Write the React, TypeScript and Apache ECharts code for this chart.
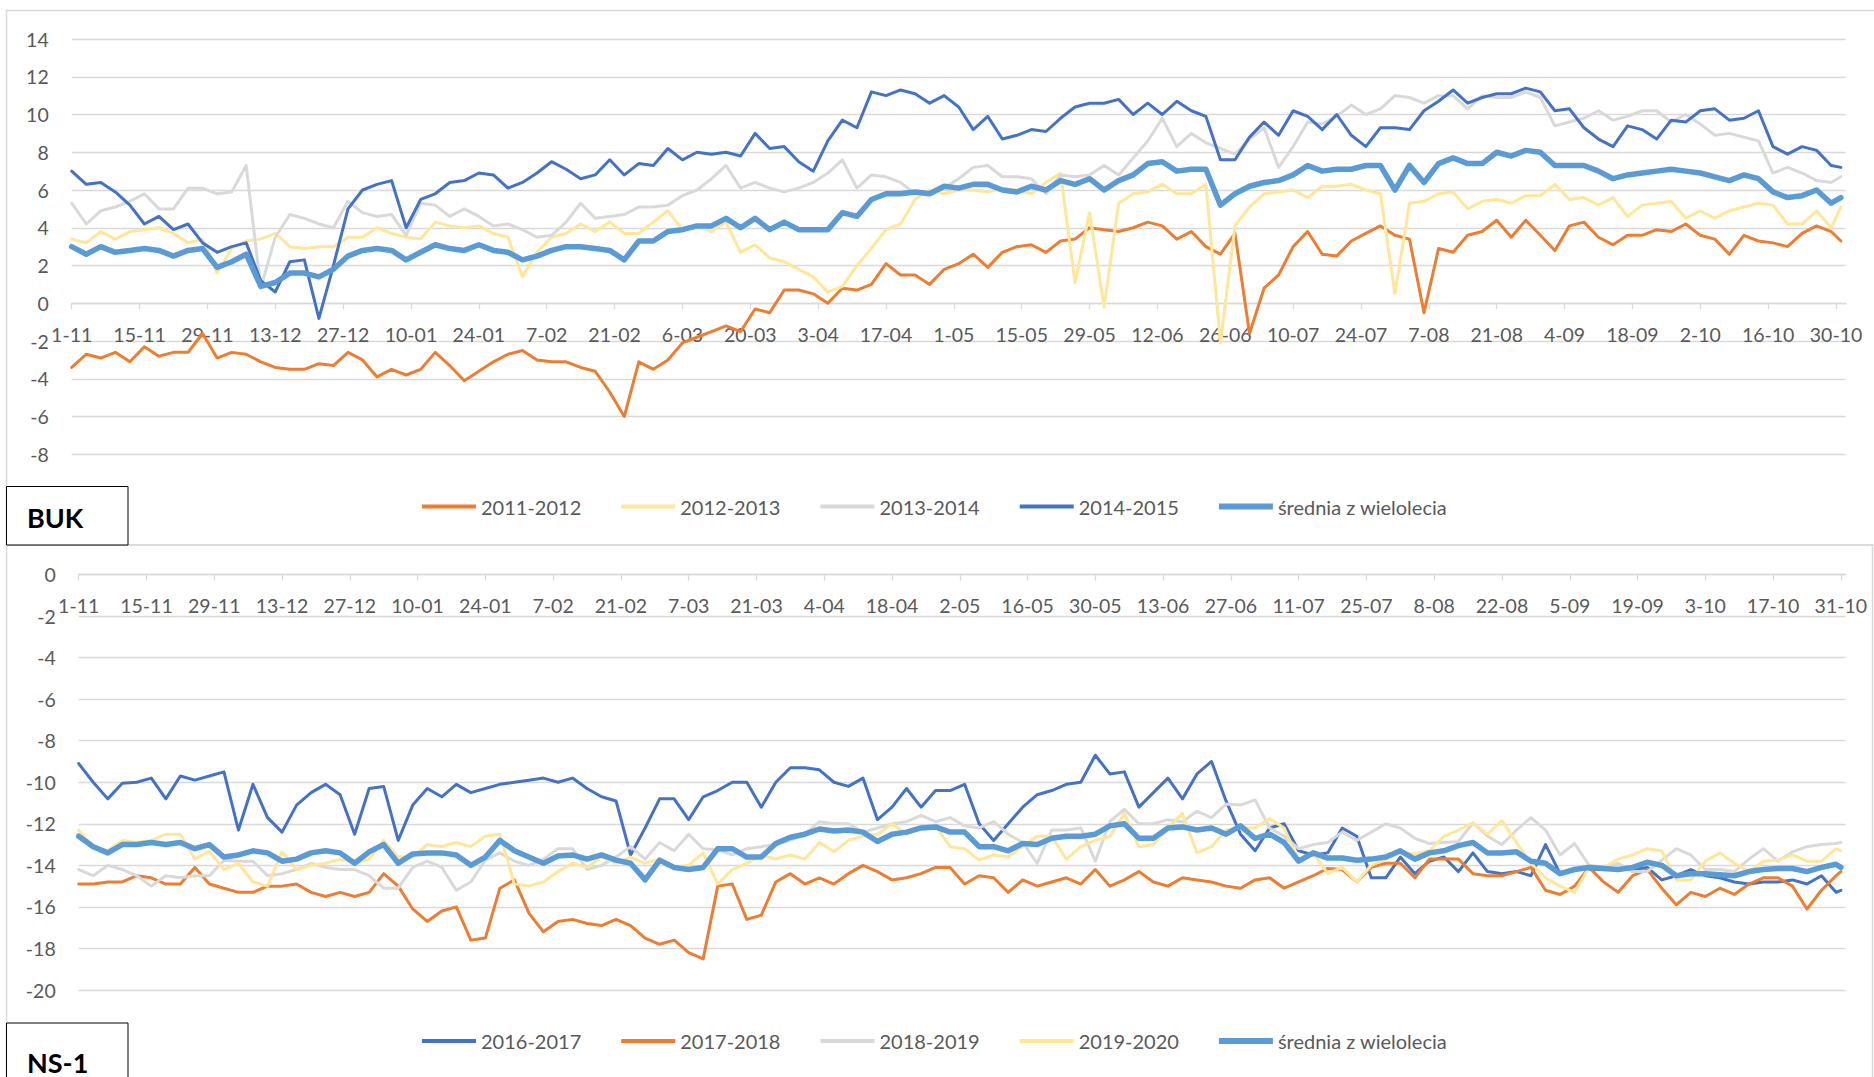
import React, { useEffect, useRef } from "react";
import * as echarts from "echarts";

// sampling: one value every STEP days, last value on the last day
const STEP = 3;
const TOP_START = Date.UTC(2011, 10, 1);
const TOP_DAYS = 367;
const TOP_LAST = 365;
const BOT_START = Date.UTC(2016, 10, 1);
const BOT_DAYS = 366;
const BOT_LAST = 364;

const TOP_NAMES = ["2011-2012", "2012-2013", "2013-2014", "2014-2015", "średnia z wielolecia"];
const BOT_NAMES = ["2016-2017", "2017-2018", "2018-2019", "2019-2020", "średnia z wielolecia"];

// BUK (top panel)
const BUK_2011_2012 = [
  -3.4, -2.7, -2.9, -2.6, -3.1, -2.3, -2.8, -2.6, -2.6, -1.6, -2.9, -2.6, -2.7, -3.1, -3.4, -3.5, -3.5, -3.2, -3.3, -2.6, -3.0, -3.9, -3.5, -3.8, -3.5, -2.6, -3.3, -4.1, -3.6,
  -3.1, -2.7, -2.5, -3.0, -3.1, -3.1, -3.4, -3.6, -4.7, -6.0, -3.1, -3.5, -3.0, -2.1, -1.8, -1.5, -1.2, -1.5, -0.3, -0.5, 0.7, 0.7, 0.5, 0.0, 0.8, 0.7, 1.0, 2.1, 1.5, 1.5, 1.0, 1.8,
  2.1, 2.6, 1.9, 2.7, 3.0, 3.1, 2.7, 3.3, 3.4, 4.0, 3.9, 3.8, 4.0, 4.3, 4.1, 3.4, 3.8, 3.0, 2.6, 3.7, -1.6, 0.8, 1.5, 3.0, 3.8, 2.6, 2.5, 3.3, 3.7, 4.1, 3.6, 3.4,
  -0.5, 2.9, 2.7, 3.6, 3.8, 4.4, 3.5, 4.4, 3.6, 2.8, 4.1, 4.3, 3.5, 3.1, 3.6, 3.6, 3.9, 3.8, 4.2, 3.6, 3.4, 2.6, 3.6, 3.3, 3.2, 3.0, 3.7, 4.1, 3.8, 3.3,
];
const BUK_2012_2013 = [
  3.4, 3.2, 3.8, 3.4, 3.8, 3.9, 4.0, 3.7, 3.2, 3.4, 1.6, 2.9, 3.3, 3.4, 3.7, 3.0, 2.9, 3.0, 3.0, 3.5, 3.5, 4.0, 3.7, 3.5, 3.4, 4.3, 4.1, 4.0, 4.1,
  3.7, 3.5, 1.4, 2.7, 3.5, 3.7, 4.2, 3.8, 4.3, 3.7, 3.7, 4.3, 4.9, 3.9, 4.1, 3.8, 4.3, 2.7, 3.1, 2.4, 2.2, 1.8, 1.4, 0.6, 0.9, 2.0, 2.9, 3.9, 4.2, 5.5, 6.0, 5.8,
  6.0, 6.0, 5.9, 6.1, 6.0, 5.8, 6.4, 6.9, 1.1, 4.8, -0.2, 5.3, 5.8, 5.9, 6.3, 5.8, 5.8, 6.3, -2.1, 4.1, 5.1, 5.8, 5.9, 6.0, 5.6, 6.2, 6.2, 6.3, 6.0, 5.8, 0.5, 5.3,
  5.4, 5.8, 5.9, 5.0, 5.4, 5.5, 5.3, 5.7, 5.7, 6.3, 5.5, 5.6, 5.2, 5.6, 4.6, 5.2, 5.3, 5.4, 4.5, 4.9, 4.5, 4.9, 5.1, 5.3, 5.2, 4.2, 4.2, 4.9, 4.0, 5.1,
];
const BUK_2013_2014 = [
  5.3, 4.2, 4.9, 5.1, 5.4, 5.8, 5.0, 5.0, 6.1, 6.1, 5.8, 5.9, 7.3, 0.8, 3.5, 4.7, 4.5, 4.2, 4.0, 5.4, 4.8, 4.6, 4.7, 3.6, 5.3, 5.2, 4.6, 5.0, 4.6,
  4.1, 4.2, 3.9, 3.5, 3.6, 4.3, 5.3, 4.5, 4.6, 4.7, 5.1, 5.1, 5.2, 5.7, 6.0, 6.6, 7.3, 6.1, 6.4, 6.1, 5.9, 6.1, 6.4, 6.9, 7.6, 6.1, 6.8, 6.7, 6.4, 5.8, 5.8, 6.1,
  6.6, 7.2, 7.3, 6.7, 6.7, 6.6, 5.8, 6.8, 6.7, 6.8, 7.3, 6.8, 7.7, 8.6, 9.8, 8.3, 9.0, 8.5, 8.2, 7.9, 8.7, 9.3, 7.2, 8.3, 9.6, 9.5, 9.9, 10.5, 10.0, 10.3, 11.0, 10.9,
  10.6, 11.0, 11.0, 10.3, 11.0, 10.9, 10.9, 11.2, 10.9, 9.4, 9.6, 9.8, 10.2, 9.7, 9.9, 10.2, 10.2, 9.6, 10.0, 9.5, 8.9, 9.0, 8.8, 8.6, 6.9, 7.2, 6.9, 6.5, 6.4, 6.7,
];
const BUK_2014_2015 = [
  7.0, 6.3, 6.4, 5.9, 5.2, 4.2, 4.6, 3.9, 4.2, 3.2, 2.7, 3.0, 3.2, 1.2, 0.6, 2.2, 2.3, -0.8, 2.0, 5.0, 6.0, 6.3, 6.5, 4.0, 5.5, 5.8, 6.4, 6.5, 6.9,
  6.8, 6.1, 6.4, 6.9, 7.5, 7.1, 6.6, 6.8, 7.6, 6.8, 7.4, 7.3, 8.2, 7.6, 8.0, 7.9, 8.0, 7.8, 9.0, 8.2, 8.3, 7.5, 7.0, 8.6, 9.7, 9.3, 11.2, 11.0, 11.3, 11.1, 10.6, 11.0,
  10.4, 9.2, 9.9, 8.7, 8.9, 9.2, 9.1, 9.8, 10.4, 10.6, 10.6, 10.8, 10.0, 10.6, 10.0, 10.7, 10.2, 9.9, 7.6, 7.6, 8.8, 9.6, 8.9, 10.2, 9.9, 9.2, 10.0, 8.9, 8.3, 9.3, 9.3, 9.2,
  10.2, 10.7, 11.3, 10.6, 10.9, 11.1, 11.1, 11.4, 11.2, 10.2, 10.3, 9.3, 8.7, 8.3, 9.4, 9.2, 8.7, 9.7, 9.6, 10.2, 10.3, 9.7, 9.8, 10.2, 8.3, 7.9, 8.3, 8.1, 7.3, 7.2,
];
const BUK_AVG = [
  3.0, 2.6, 3.0, 2.7, 2.8, 2.9, 2.8, 2.5, 2.8, 2.9, 1.9, 2.2, 2.6, 0.9, 1.1, 1.6, 1.6, 1.4, 1.8, 2.5, 2.8, 2.9, 2.8, 2.3, 2.7, 3.1, 2.9, 2.8, 3.1,
  2.8, 2.7, 2.3, 2.5, 2.8, 3.0, 3.0, 2.9, 2.8, 2.3, 3.3, 3.3, 3.8, 3.9, 4.1, 4.1, 4.5, 4.0, 4.5, 3.9, 4.3, 3.9, 3.9, 3.9, 4.8, 4.6, 5.5, 5.8, 5.8, 5.9, 5.8, 6.2,
  6.1, 6.3, 6.3, 6.0, 5.9, 6.2, 6.0, 6.5, 6.3, 6.6, 6.0, 6.5, 6.8, 7.4, 7.5, 7.0, 7.1, 7.1, 5.2, 5.8, 6.2, 6.4, 6.5, 6.8, 7.3, 7.0, 7.1, 7.1, 7.3, 7.3, 6.0, 7.3,
  6.4, 7.4, 7.7, 7.4, 7.4, 8.0, 7.8, 8.1, 8.0, 7.3, 7.3, 7.3, 7.0, 6.6, 6.8, 6.9, 7.0, 7.1, 7.0, 6.9, 6.7, 6.5, 6.8, 6.6, 5.9, 5.6, 5.7, 6.0, 5.3, 5.6,
];

// NS-1 (bottom panel)
const NS_2016_2017 = [
  -9.1, -10.0, -10.8, -10.05, -10.0, -9.8, -10.8, -9.7, -9.9, -9.7, -9.5, -12.3, -10.1, -11.7, -12.4, -11.1, -10.5, -10.1, -10.6, -12.5, -10.3, -10.2, -12.8, -11.1, -10.3, -10.7, -10.1, -10.5,
  -10.3, -10.1, -10.0, -9.9, -9.8, -10.0, -9.8, -10.3, -10.7, -10.9, -13.5, -12.2, -10.8, -10.8, -11.8, -10.7, -10.4, -10.0, -10.0, -11.2, -10.0, -9.3, -9.3, -9.4, -10.0, -10.2, -9.8, -11.8, -11.2, -10.3, -11.2, -10.4, -10.4,
  -10.1, -12.0, -12.8, -12.0, -11.2, -10.6, -10.4, -10.1, -10.0, -8.7, -9.6, -9.5, -11.2, -10.5, -9.8, -10.8, -9.6, -9.0, -10.9, -12.5, -13.3, -12.2, -12.0, -13.3, -13.5, -13.4, -12.2, -12.6, -14.6, -14.6, -13.6, -14.4,
  -13.8, -13.6, -14.3, -13.4, -14.3, -14.4, -14.3, -14.5, -13.0, -14.4, -14.2, -14.2, -14.2, -14.2, -14.2, -14.1, -14.7, -14.5, -14.2, -14.5, -14.6, -14.8, -14.9, -14.8, -14.8, -14.7, -14.9, -14.5, -15.3, -15.2,
];
const NS_2017_2018 = [
  -14.9, -14.9, -14.8, -14.8, -14.5, -14.6, -14.9, -14.9, -14.1, -14.9, -15.1, -15.3, -15.3, -15.0, -15.0, -14.9, -15.3, -15.5, -15.3, -15.5, -15.3, -14.4, -15.0, -16.1, -16.7, -16.2, -16.0, -17.6,
  -17.5, -15.1, -14.7, -16.3, -17.2, -16.7, -16.6, -16.8, -16.9, -16.6, -16.9, -17.5, -17.8, -17.6, -18.2, -18.5, -15.0, -14.9, -16.6, -16.4, -14.8, -14.4, -14.9, -14.6, -14.9, -14.4, -14.0, -14.3, -14.7, -14.6, -14.4, -14.1, -14.1,
  -14.9, -14.5, -14.6, -15.3, -14.7, -15.0, -14.8, -14.6, -14.9, -14.2, -15.0, -14.7, -14.3, -14.8, -15.0, -14.6, -14.7, -14.8, -15.0, -15.1, -14.7, -14.6, -15.1, -14.8, -14.5, -14.15, -14.2, -14.8, -14.1, -13.9, -13.9, -14.6,
  -13.7, -13.7, -13.7, -14.4, -14.5, -14.5, -14.3, -14.1, -15.2, -15.4, -15.0, -14.1, -14.8, -15.3, -14.5, -14.2, -15.1, -15.9, -15.3, -15.5, -15.1, -15.4, -14.9, -14.6, -14.6, -15.0, -16.1, -15.2, -14.5, -14.3,
];
const NS_2018_2019 = [
  -14.2, -14.5, -14.0, -14.2, -14.5, -15.0, -14.5, -14.6, -14.5, -14.5, -13.75, -13.8, -13.8, -14.5, -14.4, -14.2, -13.9, -14.1, -14.2, -14.2, -14.5, -15.1, -15.1, -14.1, -13.8, -14.1, -15.2, -14.8,
  -13.75, -13.4, -13.8, -14.0, -13.7, -13.2, -13.2, -14.2, -14.0, -13.6, -13.1, -13.7, -12.9, -13.3, -12.5, -13.2, -13.25, -13.5, -13.2, -13.1, -13.0, -12.8, -12.5, -11.9, -12.0, -12.0, -12.4, -12.2, -12.0, -11.9, -11.6, -11.9, -11.7,
  -12.1, -12.2, -11.9, -12.5, -12.9, -13.9, -12.3, -12.3, -12.2, -13.8, -11.9, -11.3, -12.0, -12.0, -11.8, -11.9, -11.4, -11.7, -11.05, -11.1, -10.85, -12.2, -12.6, -13.2, -13.0, -12.9, -12.4, -12.8, -12.4, -12.0, -12.2, -12.7,
  -12.95, -12.9, -12.85, -11.95, -12.6, -13.0, -12.3, -11.7, -12.3, -13.5, -12.95, -14.0, -14.1, -13.9, -14.3, -14.3, -13.75, -13.2, -13.5, -14.2, -14.2, -14.3, -13.7, -13.2, -13.8, -13.35, -13.1, -13.0, -12.95, -12.9,
];
const NS_2019_2020 = [
  -12.3, -13.1, -13.3, -12.8, -12.9, -12.8, -12.5, -12.5, -13.7, -13.3, -14.2, -13.9, -14.8, -15.0, -13.35, -14.2, -14.0, -13.9, -13.7, -13.9, -13.7, -12.8, -13.6, -13.6, -13.0, -13.1, -12.9, -13.1,
  -12.6, -12.5, -14.9, -15.0, -14.8, -14.3, -13.9, -14.1, -13.6, -13.9, -13.6, -13.9, -13.7, -14.1, -14.0, -13.4, -14.9, -14.2, -13.9, -13.5, -13.7, -13.5, -13.7, -12.9, -13.35, -12.8, -12.6, -12.5, -12.0, -12.5, -12.2, -12.1, -13.1,
  -13.2, -13.75, -13.5, -13.6, -13.1, -12.6, -12.6, -13.7, -13.1, -12.8, -12.6, -11.5, -13.1, -13.0, -12.2, -11.5, -13.4, -13.1, -12.3, -12.2, -12.2, -11.75, -12.2, -13.8, -13.4, -14.4, -14.1, -14.8, -14.0, -13.7, -13.4, -13.45,
  -13.3, -12.6, -12.3, -11.95, -12.5, -11.85, -12.9, -13.9, -14.6, -15.0, -15.3, -14.1, -14.1, -13.7, -13.5, -13.2, -13.3, -14.7, -14.7, -13.8, -13.4, -13.9, -14.3, -13.8, -13.75, -13.5, -13.8, -13.8, -13.2, -13.3,
];
const NS_AVG = [
  -12.6, -13.1, -13.4, -13.0, -13.0, -12.9, -13.0, -12.9, -13.2, -13.0, -13.6, -13.5, -13.3, -13.4, -13.8, -13.7, -13.4, -13.3, -13.4, -13.9, -13.35, -13.0, -13.9, -13.45, -13.4, -13.4, -13.5, -14.0,
  -13.6, -12.8, -13.3, -13.6, -13.9, -13.55, -13.5, -13.7, -13.5, -13.75, -13.9, -14.7, -13.75, -14.1, -14.2, -14.1, -13.2, -13.2, -13.6, -13.6, -12.95, -12.65, -12.5, -12.25, -12.35, -12.3, -12.4, -12.85, -12.5, -12.4, -12.2, -12.15, -12.4,
  -12.4, -13.1, -13.1, -13.3, -12.95, -13.0, -12.7, -12.6, -12.6, -12.5, -12.1, -12.0, -12.7, -12.7, -12.2, -12.15, -12.3, -12.2, -12.5, -12.1, -12.7, -12.5, -12.9, -13.8, -13.4, -13.65, -13.65, -13.75, -13.7, -13.6, -13.3, -13.7,
  -13.4, -13.3, -13.05, -12.9, -13.4, -13.4, -13.35, -13.8, -13.9, -14.4, -14.2, -14.1, -14.15, -14.2, -14.1, -13.85, -14.0, -14.5, -14.4, -14.4, -14.45, -14.5, -14.3, -14.2, -14.15, -14.15, -14.3, -14.1, -13.95, -14.1,
];

const TOP_SERIES = [BUK_2011_2012, BUK_2012_2013, BUK_2013_2014, BUK_2014_2015, BUK_AVG];
const BOT_SERIES = [NS_2016_2017, NS_2017_2018, NS_2018_2019, NS_2019_2020, NS_AVG];
const TOP_COLORS = ["#ED7D31", "#FFE699", "#D9D9D9", "#4472C4", "#5B9BD5"];
const BOT_COLORS = ["#4472C4", "#ED7D31", "#D9D9D9", "#FFE699", "#5B9BD5"];

const FONT = "Lato, 'Open Sans', sans-serif";
const AXIS_TEXT = "#595959";
const GRID_LINE = "#D9D9D9";

const TOP_GRID = { left: 71.7, top: 39, width: 1774, height: 415.3 };
const BOT_GRID = { left: 78.7, top: 574.5, width: 1767, height: 415.5 };

function dayLabels(start: number, n: number): string[] {
  const out: string[] = [];
  for (let i = 0; i < n; i++) {
    const d = new Date(start + i * 86400000);
    out.push(`${d.getUTCDate()}-${String(d.getUTCMonth() + 1).padStart(2, "0")}`);
  }
  return out;
}

function toPoints(vals: number[], last: number) {
  return vals.map((v, k) => [Math.min(k * STEP, last), v]);
}

// offset moves the category axis from the grid bottom up to the value 0
function xAxisCfg(gridIndex: number, cats: string[], offset: number) {
  return {
    type: "category",
    gridIndex,
    data: cats,
    boundaryGap: false,
    position: "bottom",
    offset,
    axisLine: { show: true, onZero: false, lineStyle: { color: GRID_LINE, width: 1.3 } },
    axisTick: { show: true, interval: 13, length: 6, lineStyle: { color: GRID_LINE, width: 1.3 } },
    axisLabel: {
      interval: 13,
      fontSize: 19.5,
      color: AXIS_TEXT,
      fontFamily: FONT,
      margin: 21,
    },
    splitLine: { show: false },
  };
}

function yAxisCfg(gridIndex: number, min: number, max: number) {
  return {
    type: "value",
    gridIndex,
    min,
    max,
    interval: 2,
    axisLine: { show: false },
    axisTick: { show: false },
    axisLabel: { fontSize: 19.5, color: AXIS_TEXT, fontFamily: FONT, margin: 23 },
    splitLine: { lineStyle: { color: GRID_LINE, width: 1.3 } },
  };
}

function legendCfg(names: string[], top: number) {
  return {
    left: 422,
    top,
    padding: 0,
    itemWidth: 54,
    itemHeight: 14,
    itemGap: 40,
    textStyle: { fontSize: 20, color: AXIS_TEXT, fontFamily: FONT },
    data: names.map((n, i) => ({
      name: n,
      icon: i === 4 ? "path://M0 0H54V6H0Z" : "path://M0 0H54V4H0Z",
    })),
    selectedMode: false,
  };
}

function makeSeries(names: string[], data: number[][], colors: string[], axisIndex: number, last: number) {
  return names.map((name, i) => ({
    type: "line",
    name,
    xAxisIndex: axisIndex,
    yAxisIndex: axisIndex,
    data: toPoints(data[i], last),
    symbol: "none",
    showSymbol: false,
    lineStyle: { color: colors[i], width: i === 4 ? 5.5 : 3, join: "round", cap: "round" },
    itemStyle: { color: colors[i] },
    z: 2 + i,
  }));
}

export default function App() {
  const ref = useRef<HTMLDivElement>(null);
  useEffect(() => {
    if (!ref.current) return;
    const chart = echarts.init(ref.current, undefined, { renderer: "svg" });
    const topCats = dayLabels(TOP_START, TOP_DAYS);
    const botCats = dayLabels(BOT_START, BOT_DAYS);
    // distance from grid bottom to the value 0
    const topOffset = -(TOP_GRID.height * (0 - -8)) / (14 - -8);
    const botOffset = -BOT_GRID.height;
    chart.setOption({
      animation: false,
      backgroundColor: "#ffffff",
      textStyle: { fontFamily: FONT },
      grid: [
        { ...TOP_GRID, containLabel: false },
        { ...BOT_GRID, containLabel: false },
      ],
      xAxis: [xAxisCfg(0, topCats, topOffset), xAxisCfg(1, botCats, botOffset)],
      yAxis: [yAxisCfg(0, -8, 14), yAxisCfg(1, -20, 0)],
      legend: [legendCfg(TOP_NAMES, 496.5), legendCfg(BOT_NAMES, 1031)],
      series: [
        ...makeSeries(TOP_NAMES, TOP_SERIES, TOP_COLORS, 0, TOP_LAST),
        ...makeSeries(BOT_NAMES, BOT_SERIES, BOT_COLORS, 1, BOT_LAST),
      ],
      graphic: [
        { type: "rect", silent: true, z: 0, shape: { x: 6.5, y: 10.5, width: 1880, height: 534.5 }, style: { fill: "none", stroke: GRID_LINE, lineWidth: 1.5 } },
        { type: "rect", silent: true, z: 0, shape: { x: 6.5, y: 545, width: 1866, height: 540 }, style: { fill: "none", stroke: GRID_LINE, lineWidth: 1.5 } },
        { type: "rect", silent: true, z: 10, shape: { x: 6.5, y: 486.5, width: 121.5, height: 58.5 }, style: { fill: "#ffffff", stroke: "#000000", lineWidth: 1 } },
        { type: "text", silent: true, z: 11, x: 27, y: 517, style: { text: "BUK", fontSize: 27, fontWeight: "bold", fontFamily: FONT, fill: "#000000", verticalAlign: "middle", align: "left" } },
        { type: "rect", silent: true, z: 10, shape: { x: 6.5, y: 1023, width: 121.5, height: 70 }, style: { fill: "#ffffff", stroke: "#000000", lineWidth: 1 } },
        { type: "text", silent: true, z: 11, x: 27, y: 1062, style: { text: "NS-1", fontSize: 27, fontWeight: "bold", fontFamily: FONT, fill: "#000000", verticalAlign: "middle", align: "left" } },
      ],
    });
    return () => chart.dispose();
  }, []);
  return (
    <div
      ref={ref}
      style={{ position: "fixed", left: 0, top: 0, width: 1874, height: 1077, background: "#ffffff" }}
    />
  );
}
